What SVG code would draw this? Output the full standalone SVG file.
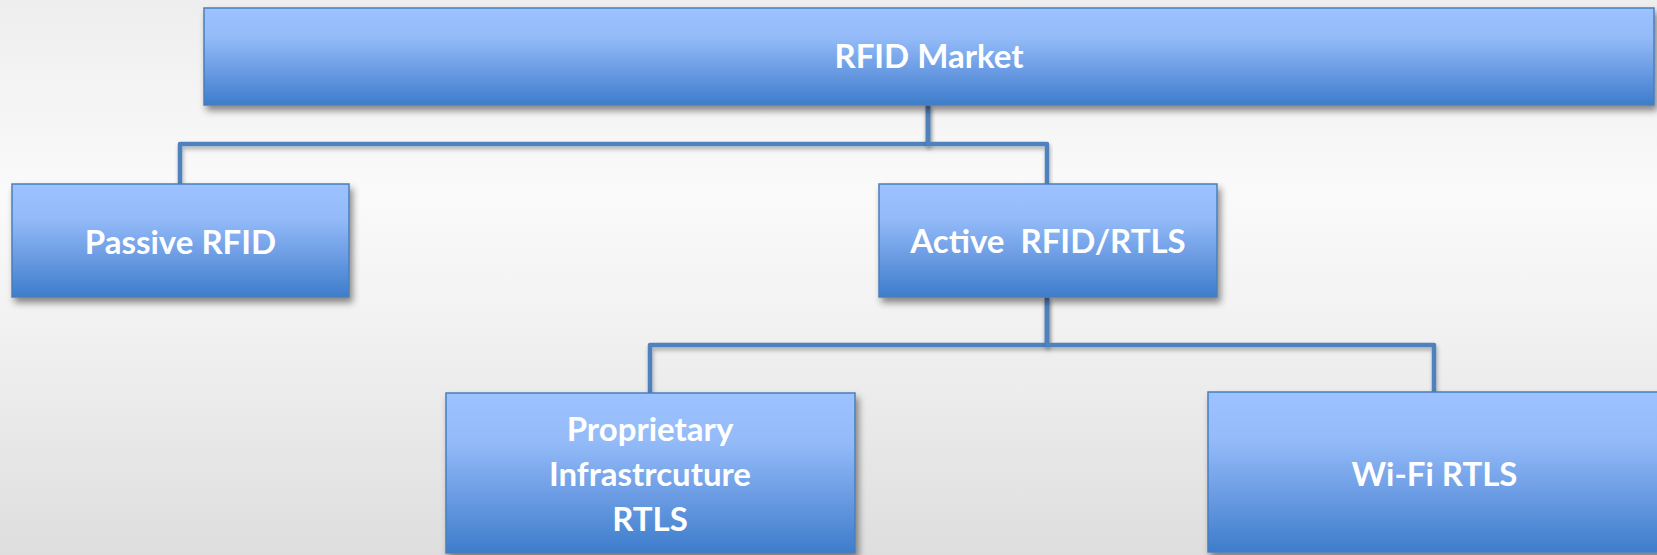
<svg xmlns="http://www.w3.org/2000/svg" width="1657" height="555" viewBox="0 0 1657 555">
<defs>
<linearGradient id="bg" x1="0" y1="0" x2="0" y2="1">
<stop offset="0" stop-color="#eeeeee"/>
<stop offset="0.35" stop-color="#fafafa"/>
<stop offset="0.55" stop-color="#f3f3f3"/>
<stop offset="1" stop-color="#dedede"/>
</linearGradient>
<linearGradient id="boxg" x1="0" y1="0" x2="0" y2="1">
<stop offset="0" stop-color="#9cc2ff"/>
<stop offset="0.3" stop-color="#94bbf8"/>
<stop offset="0.65" stop-color="#6a9be3"/>
<stop offset="1" stop-color="#3d7dcb"/>
</linearGradient>
<filter id="sh" x="-5%" y="-10%" width="110%" height="130%">
<feDropShadow dx="3" dy="5" stdDeviation="3.5" flood-color="#000" flood-opacity="0.45"/>
</filter>
<filter id="lsh" x="-5%" y="-20%" width="110%" height="140%">
<feDropShadow dx="1" dy="3" stdDeviation="2" flood-color="#000" flood-opacity="0.3"/>
</filter>
</defs>
<style>
.box{fill:url(#boxg);stroke:#4a7ebd;stroke-width:1.5;filter:url(#sh)}
.lbl{font-family:Lato,"Open Sans","Liberation Sans",sans-serif;font-weight:bold;font-size:33px;fill:#ffffff;text-anchor:middle;white-space:pre}
.conn{fill:none;stroke:#4f81bd;stroke-width:4.5;stroke-linejoin:round;filter:url(#lsh)}
</style>
<rect x="0" y="0" width="1657" height="555" fill="url(#bg)"/>
<g id="connectors">
<path class="conn" d="M928 105 V144 H180 V184"/>
<path class="conn" d="M928 105 V144 H1047 V184"/>
<path class="conn" d="M1047 297 V345 H650 V393"/>
<path class="conn" d="M1047 297 V345 H1434 V392"/>
</g>
<g id="rfid-market">
<rect class="box" x="204" y="8" width="1450" height="97"/>
<text class="lbl" x="929" y="68">RFID Market</text>
</g>
<g id="passive-rfid">
<rect class="box" x="12" y="184" width="337" height="113"/>
<text class="lbl" x="180.5" y="254">Passive RFID</text>
</g>
<g id="active-rfid">
<rect class="box" x="879" y="184" width="338" height="113"/>
<text class="lbl" x="1048" y="253" xml:space="preserve">Active  RFID/RTLS</text>
</g>
<g id="proprietary-rtls">
<rect class="box" x="446" y="393" width="409" height="160"/>
<text class="lbl" x="650" y="441">Proprietary</text>
<text class="lbl" x="650" y="486">Infrastrcuture</text>
<text class="lbl" x="650" y="531">RTLS</text>
</g>
<g id="wifi-rtls">
<rect class="box" x="1208" y="392" width="470" height="160"/>
<text class="lbl" x="1434.5" y="486">Wi-Fi RTLS</text>
</g>
</svg>
